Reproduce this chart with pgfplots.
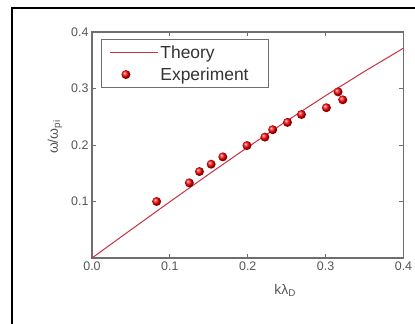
\documentclass[border=0pt]{standalone}
\usepackage{fontspec}
\setmainfont{Liberation Sans}
\usepackage{pgfplots}
\pgfplotsset{compat=1.18}
\definecolor{axgray}{HTML}{6E6E6E}
\definecolor{txtgray}{HTML}{555555}
\definecolor{theory}{HTML}{C83040}
\begin{document}
\begin{tikzpicture}[x=1bp,y=1bp]
\useasboundingbox (-92,-66) rectangle (323,258);
\draw[black,line width=2bp] (-80,-120) -- (-80,250) -- (400,250);
\begin{axis}[
  at={(0,0)}, anchor=south west,
  scale only axis, width=311.5bp, height=226bp,
  xmin=0, xmax=0.4, ymin=0, ymax=0.4,
  xtick={0,0.1,0.2,0.3,0.4},
  ytick={0.1,0.2,0.3,0.4},
  xticklabels={0.0,0.1,0.2,0.3,0.4},
  yticklabels={0.1,0.2,0.3,0.4},
  tick align=inside,
  major tick length=4bp,
  tick style={axgray, line width=1bp},
  axis line style={axgray, line width=1.6bp},
  ticklabel style={font=\fontsize{12.5}{14}\selectfont, text=txtgray},
  /pgf/number format/assume math mode=true,
  xlabel={kλ\textsubscript{D}},
  ylabel={ω/ω\textsubscript{pi}},
  label style={font=\fontsize{14}{16}\selectfont, text=txtgray},
  xlabel style={at={(axis description cs:0.62,-0.142)}, anchor=center},
  ylabel style={at={(axis description cs:-0.119,0.535)}, anchor=center},
  legend style={at={(rel axis cs:0.029,0.969)}, anchor=north west,
    draw=axgray, line width=0.8bp, font=\fontsize{17.5}{19}\selectfont, text=black!80,
    inner xsep=8bp, inner ysep=4bp, row sep=4bp},
  legend cell align=left,
  legend image code/.code={\draw[mark repeat=2,mark phase=2,#1] plot coordinates {(0bp,0bp)(16bp,0bp)(48bp,0bp)};},
  clip=false,
]
\addplot[theory, line width=1bp, no marks] coordinates {
(0,0) (0.05,0.04994) (0.1,0.0995) (0.15,0.14834) (0.2,0.19612)
(0.25,0.24254) (0.3,0.28735) (0.35,0.33035) (0.4,0.37139)};
\addlegendentry{Theory}
\addplot[only marks, mark=ball, mark size=4.5bp, ball color=red, draw=none] coordinates {
(0.083,0.100) (0.125,0.133) (0.138,0.153) (0.153,0.166) (0.168,0.179)
(0.199,0.199) (0.222,0.214) (0.232,0.227) (0.251,0.240) (0.269,0.254)
(0.301,0.266) (0.316,0.294) (0.322,0.280)};
\addlegendentry{Experiment\rule{10bp}{0pt}}
\end{axis}
\end{tikzpicture}
\end{document}
